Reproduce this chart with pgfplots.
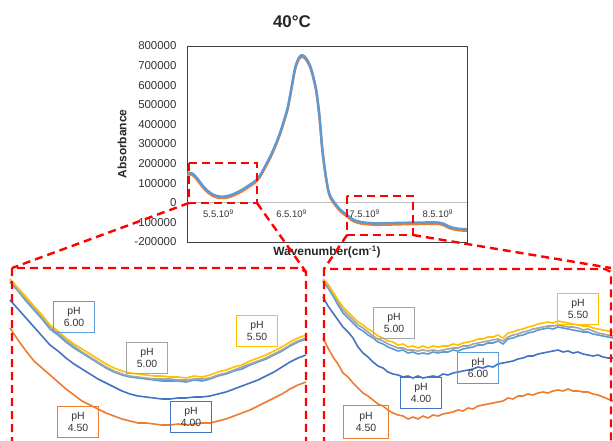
\documentclass[border=0pt]{standalone}
\usepackage{fontspec}
\setmainfont{Liberation Sans}
\usepackage{pgfplots}
\usepackage{pgfplotstable}
\pgfplotsset{compat=1.18}
\definecolor{cBlue}{HTML}{4472C4}
\definecolor{cOrange}{HTML}{ED7D31}
\definecolor{cGray}{HTML}{A5A5A5}
\definecolor{cYellow}{HTML}{FFC000}
\definecolor{cLBlue}{HTML}{5B9BD5}
\definecolor{txt}{HTML}{333333}

% main spectrum: wavenumber (x 10^9) vs absorbance
\pgfplotstableread{
x y
5.07 150000
5.10 153000
5.14 150000
5.18 138000
5.23 115000
5.28 90000
5.34 66000
5.40 48000
5.46 37000
5.52 32000
5.58 32000
5.64 36000
5.70 44000
5.76 54000
5.82 66000
5.88 80000
5.94 95000
6.00 110000
6.05 130000
6.10 160000
6.15 195000
6.20 230000
6.25 270000
6.30 315000
6.35 365000
6.40 425000
6.45 490000
6.50 590000
6.55 690000
6.60 740000
6.64 753000
6.68 746000
6.72 725000
6.76 694000
6.80 640000
6.84 570000
6.88 450000
6.92 280000
6.96 160000
7.00 70000
7.03 35000
7.07 10000
7.12 -15000
7.17 -36000
7.25 -60000
7.35 -87000
7.45 -98000
7.54 -102000
7.65 -105000
7.80 -104000
8.00 -102000
8.20 -101000
8.40 -100000
8.52 -101000
8.58 -107000
8.65 -120000
8.72 -128000
8.80 -133000
8.90 -135000
}\mainspec

% left zoom (picture units, y downward): Y=pH5.50 G=pH5.00 L=pH6.00 B=pH4.00 O=pH4.50
\pgfplotstableread{
x Y G L B O
10 279 280 282 300 328
18 288 290 291 309 340
26 297 299 301 318 351
34 306 308 310 327 361
42 315 317 319 336 368
50 325 327 329 345 375
58 331 333 335 351 382
66 338 340 342 358 389
74 344 346 348 364 395
82 349 352 353 369 401
90 354 357 358 374 405
98 359 362 363 379 409
106 364 367 368 383 413
114 368 371 372 387 416
122 371 374 375 391 419
130 373 376 377 394 421
138 374 377 378 396 423
146 375 378 379 397 423
154 376 379 380 398 424
162 376 379 381 399 425
170 377 379 381 399 425
178 377 380 381 398 424
186 378 380 382 398 425
194 376 379 380 397 424
202 377 379 381 397 423
210 375 378 379 396 423
218 372 375 376 394 421
226 370 373 374 392 419
234 367 370 371 389 416
242 365 367 369 386 413
250 361 364 365 383 410
258 358 361 362 380 406
266 355 358 359 376 402
274 351 354 355 372 398
282 347 350 351 367 394
290 342 345 346 362 389
298 338 341 342 358 385
306 335 338 339 355 382
}\leftins

% right zoom
\pgfplotstableread{
x Y G L B O
323 279 280 281 297 338
328 284 286 288 306 348
333 292 294 296 313 357
338 300 302 305 320 364
343 307 310 313 327 373
348 312 315 318 332 377
353 317 320 323 338 383
358 322 325 328 347 388
363 325 328 331 353 393
368 329 332 335 357 396
373 332 336 338 362 400
378 336 339 342 366 404
383 338 341 344 368 406
388 341 344 347 372 410
393 342 346 349 374 413
398 345 348 351 375 415
403 344 348 350 377 416
408 347 350 353 376 419
413 346 350 352 378 417
418 348 351 354 376 419
423 346 350 353 378 416
428 348 351 354 377 418
433 346 350 352 376 415
438 347 351 353 377 416
443 346 350 352 374 414
448 346 349 352 375 413
453 344 348 350 373 412
458 345 348 351 372 410
463 343 346 349 371 411
468 342 346 348 370 408
473 341 344 347 369 409
478 339 343 345 367 406
483 339 342 345 368 405
488 337 341 343 366 404
493 337 340 343 367 403
498 335 339 341 364 402
503 338 341 344 363 401
508 333 337 339 362 398
513 332 335 338 361 399
518 330 334 336 359 396
523 329 332 335 358 396
528 327 331 333 356 394
533 326 329 332 356 395
538 324 328 330 354 393
543 323 327 329 353 392
548 322 326 328 352 393
553 323 326 329 351 391
558 321 325 327 350 390
563 322 326 328 352 391
568 323 327 329 351 389
573 324 327 330 353 391
578 325 328 331 352 391
583 326 330 332 354 392
588 326 329 332 355 392
593 328 331 334 356 394
598 329 333 335 355 395
603 330 334 336 357 397
608 331 335 337 358 399
613 332 336 338 358 401
}\rightins

\begin{document}
\begin{tikzpicture}[
  lab/.style={draw=#1, line width=0.8bp, text=txt, align=center,
    minimum width=41bp, minimum height=31bp, inner sep=1bp,
    font=\fontsize{10.5}{12}\selectfont},
  rd/.style={draw=red, line width=2.4bp, dash pattern=on 8bp off 5bp},
]
\path[use as bounding box] (0bp,0bp) rectangle (613bp,441bp);
\begin{axis}[
  at={(187bp,199bp)}, anchor=south west,
  width=280bp, height=196bp, scale only axis,
  xmin=5.07, xmax=8.9, ymin=-200000, ymax=800000,
  scaled y ticks=false, scaled x ticks=false,
  axis line style={black!75, line width=0.8bp},
  tick style={draw=none},
  xtick={5.5,6.5,7.5,8.5},
  xticklabels={5.5.10\textsuperscript{9},6.5.10\textsuperscript{9},7.5.10\textsuperscript{9},8.5.10\textsuperscript{9}},
  xticklabel style={font=\fontsize{9.5}{10}\selectfont, text=txt, yshift=36bp},
  ytick={-200000,-100000,0,100000,200000,300000,400000,500000,600000,700000,800000},
  yticklabels={-200000,-100000,0,100000,200000,300000,400000,500000,600000,700000,800000},
  yticklabel style={font=\fontsize{11.5}{12}\selectfont, text=txt, xshift=-7bp},
  extra y ticks={0}, extra y tick labels={},
  extra y tick style={grid=major, major grid style={black!25, line width=0.8bp}},
  ylabel={Absorbance},
  ylabel style={font=\bfseries\fontsize{12}{13}\selectfont, text=black!85, at={(axis description cs:-0.232,0.5)}, anchor=center},
  xlabel={Wavenumber(cm\textsuperscript{-1})},
  xlabel style={font=\bfseries\fontsize{12}{13}\selectfont, text=black!85, at={(axis description cs:0.5,-0.051)}, anchor=center},
  title={40°C},
  title style={font=\bfseries\fontsize{17}{18}\selectfont, text=black!85, at={(axis description cs:0.375,1.095)}, anchor=center},
]
\addplot[cOrange, line width=2.4bp, smooth, yshift=-1.5bp] table[x=x,y=y]{\mainspec};
\addplot[cLBlue, line width=2.4bp, smooth] table[x=x,y=y]{\mainspec};
\end{axis}

\begin{axis}[
  at={(0bp,0bp)}, anchor=south west,
  width=613bp, height=441bp, scale only axis,
  xmin=0, xmax=613, ymin=0, ymax=441, y dir=reverse,
  hide axis, clip=false,
]
% left inset
\addplot[cOrange, line width=1.6bp] table[x=x,y=O]{\leftins};
\addplot[cBlue, line width=1.6bp] table[x=x,y=B]{\leftins};
\addplot[cLBlue, line width=1.6bp] table[x=x,y=L]{\leftins};
\addplot[cGray, line width=1.6bp] table[x=x,y=G]{\leftins};
\addplot[cYellow, line width=1.6bp] table[x=x,y=Y]{\leftins};
% right inset
\addplot[cOrange, line width=1.6bp] table[x=x,y=O]{\rightins};
\addplot[cBlue, line width=1.6bp] table[x=x,y=B]{\rightins};
\addplot[cLBlue, line width=1.6bp] table[x=x,y=L]{\rightins};
\addplot[cGray, line width=1.6bp] table[x=x,y=G]{\rightins};
\addplot[cYellow, line width=1.6bp] table[x=x,y=Y]{\rightins};

% labels left
\node[lab=cLBlue] at (axis cs:74,317) {pH\\6.00};
\node[lab=cGray] at (axis cs:147,358) {pH\\5.00};
\node[lab=cYellow] at (axis cs:257,331) {pH\\5.50};
\node[lab=cOrange] at (axis cs:78,422) {pH\\4.50};
\node[lab=cBlue] at (axis cs:191,417) {pH\\4.00};
% labels right
\node[lab=cGray] at (axis cs:394,323) {pH\\5.00};
\node[lab=cYellow] at (axis cs:578,309) {pH\\5.50};
\node[lab=cLBlue] at (axis cs:478,368) {pH\\6.00};
\node[lab=cBlue] at (axis cs:421,393) {pH\\4.00};
\node[lab=cOrange, minimum width=45bp, minimum height=33bp] at (axis cs:366,422) {pH\\4.50};

% zoom frames and connectors
\draw[rd] (axis cs:189,163) rectangle (axis cs:257,203);
\draw[rd] (axis cs:347,196) rectangle (axis cs:413,235);
\draw[rd] (axis cs:189,203) -- (axis cs:12,268);
\draw[rd] (axis cs:257,203) -- (axis cs:306,272);
\draw[rd] (axis cs:12,445) -- (axis cs:12,268) -- (axis cs:300,268) -- (axis cs:306,272) -- (axis cs:306,445);
\draw[rd] (axis cs:347,235) -- (axis cs:324,269);
\draw[rd] (axis cs:413,235) -- (axis cs:611,268);
\draw[rd] (axis cs:324,445) -- (axis cs:324,269) -- (axis cs:605,269) -- (axis cs:611,272) -- (axis cs:611,445);
\end{axis}
\end{tikzpicture}
\end{document}
